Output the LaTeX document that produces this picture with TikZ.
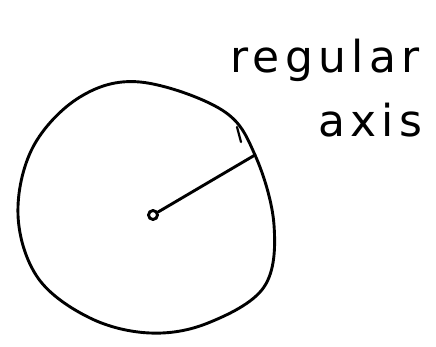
\documentclass[tikz,border=0pt]{standalone}
\usepackage{fontspec}
\newfontfamily\hand[LetterSpace=12]{DejaVu Sans}
\begin{document}
\begin{tikzpicture}[x=1pt,y=-1pt,
  pen/.style={line width=2.9pt,line cap=round,line join=round},
  lbl/.style={font=\hand\fontsize{44}{48}\selectfont,inner sep=0pt}]
\useasboundingbox (0,0) rectangle (436,347);
\draw[pen] plot[smooth cycle,tension=0.6] coordinates {(140,82) (222,110) (255,155) (274,225) (264,287) (208,323) (150,333) (90,318) (38,278) (18,215) (33,147) (80,97)};
\node[pen,draw,circle,minimum size=9pt,inner sep=0pt] (c) at (153,215) {};
\coordinate (e) at (255,155);
\draw[pen] (c) -- (e);
\coordinate (t1) at (237,127);
\coordinate (t2) at (241,142);
\draw[pen,line width=2.2pt] (t1) -- (t2);
\node[lbl] (r) at (325,60) {regular};
\node[lbl] (a) at (370,120) {axis};
\end{tikzpicture}
\end{document}
